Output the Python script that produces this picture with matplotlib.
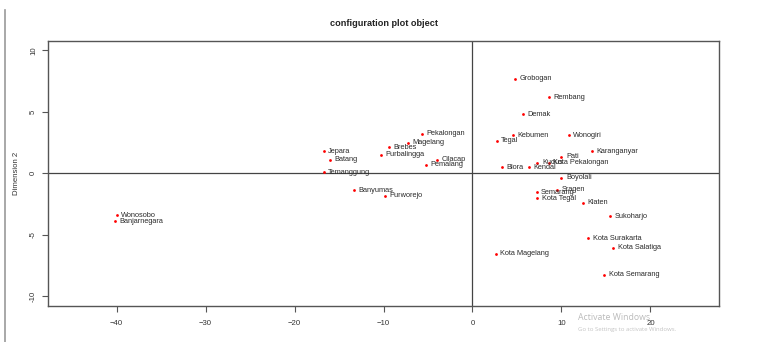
import matplotlib
matplotlib.use("Agg")
import matplotlib.pyplot as plt
from matplotlib.lines import Line2D

plt.rcParams["font.family"] = ["Liberation Sans", "DejaVu Sans"]

# MDS configuration coordinates for the regencies/cities
names = [
  "Wonosobo", "Banjarnegara", "Pekalongan", "Magelang", "Brebes", "Purbalingga",
  "Jepara", "Batang", "Temanggung", "Cilacap", "Pemalang", "Banyumas", "Purworejo",
  "Grobogan", "Rembang", "Demak", "Kebumen", "Tegal", "Wonogiri", "Karanganyar",
  "Pati", "Kudus", "Kota Pekalongan", "Blora", "Kendal", "Boyolali", "Semarang",
  "Sragen", "Kota Tegal", "Klaten", "Sukoharjo", "Kota Surakarta", "Kota Salatiga",
  "Kota Magelang", "Kota Semarang",
]
dim1 = [
  -40.0, -40.2, -5.7, -7.3, -9.4, -10.3,
  -16.7, -16.0, -16.7, -4.0, -5.2, -13.3, -9.8,
  4.8, 8.6, 5.7, 4.6, 2.7, 10.8, 13.4,
  10.0, 7.3, 8.6, 3.3, 6.3, 10.0, 7.2,
  9.5, 7.3, 12.4, 15.5, 13.0, 15.8,
  2.6, 14.8,
]
dim2 = [
  -3.4, -3.9, 3.2, 2.5, 2.1, 1.5,
  1.8, 1.1, 0.1, 1.1, 0.7, -1.4, -1.85,
  7.7, 6.2, 4.8, 3.1, 2.65, 3.1, 1.8,
  1.35, 0.85, 0.85, 0.5, 0.5, -0.35, -1.55,
  -1.35, -2.05, -2.4, -3.5, -5.3, -6.05,
  -6.55, -8.25,
]
xticks = [-40, -30, -20, -10, 0, 10, 20]
yticks = [-10, -5, 0, 5, 10]

fig = plt.figure(figsize=(7.8, 3.42), dpi=100)
ax = fig.add_axes([48 / 780, 36 / 342, 671 / 780, 265 / 342])

frame = "#555555"
ax.axhline(0, color="#444444", lw=0.9, zorder=1)
ax.axvline(0, color="#444444", lw=0.9, zorder=1)
ax.plot(dim1, dim2, "o", color="red", ms=2.0, mec="none", zorder=3)
for n, x, y in zip(names, dim1, dim2):
  ax.annotate(n, (x, y), xytext=(3.2, 0), textcoords="offset points",
              va="center", ha="left", fontsize=5.3, color="#2a2a2a")

ax.set_xlim(-47.7, 27.7)
ax.set_ylim(-10.8, 10.76)
ax.set_xticks(xticks)
ax.set_yticks(yticks)
ax.set_yticklabels([str(t) for t in yticks], rotation=90, va="center")
ax.tick_params(labelsize=5.6, colors="#333333", length=4, width=0.8)
ax.tick_params(axis="x", pad=6)
ax.tick_params(axis="y", pad=4)
ax.tick_params(axis="both", color=frame)
for s in ax.spines.values():
  s.set_color(frame)
  s.set_linewidth(1.0)

ax.set_title("configuration plot object", fontsize=6.6, fontweight="bold",
             color="#222222", pad=11)
ax.set_xlabel("Dimension 1", fontsize=5.6, color="#333333", labelpad=12)
ax.set_ylabel("Dimension 2", fontsize=5.6, color="#333333", labelpad=7)

# screen-capture leftovers: window edge and activation watermark
fig.add_artist(Line2D([5 / 780, 5 / 780], [0, 332 / 342], color="#999999", lw=1.2))
fig.text(578 / 780, 1 - 318 / 342, "Activate Windows", fontsize=6.3,
         color="#bbbbbb", va="center", family=["Open Sans", "DejaVu Sans"])
fig.text(578 / 780, 1 - 330 / 342, "Go to Settings to activate Windows.",
         fontsize=4.3, color="#c4c4c4", va="center", family=["Open Sans", "DejaVu Sans"])

fig.savefig("out.png", dpi=100, facecolor="white")
